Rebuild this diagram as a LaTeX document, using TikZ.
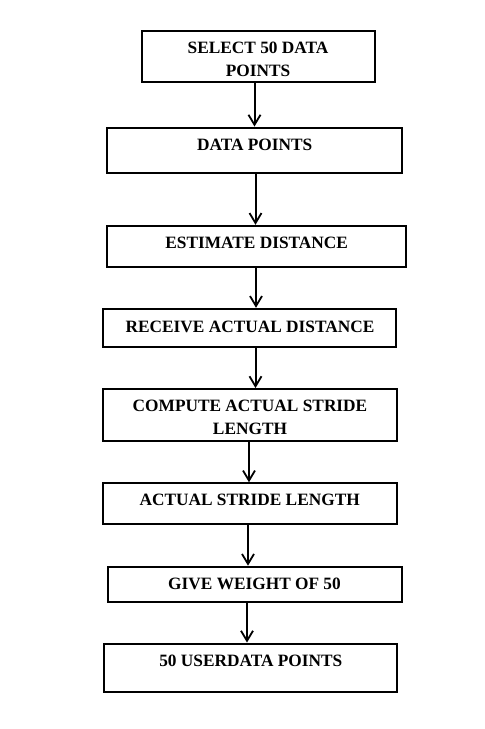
\documentclass[tikz,border=0pt]{standalone}
\usepackage{fontspec}
\setmainfont{Liberation Serif}
\usetikzlibrary{arrows.meta}
\begin{document}
\begin{tikzpicture}[x=1pt,y=-1pt,
  box/.style={draw,rectangle,line width=2pt,inner sep=0pt},
  txt/.style={inner sep=0pt,align=center,font=\fontsize{17.3}{23}\selectfont\bfseries},
  arr/.style={line width=2pt,-{Straight Barb[length=10pt,width=12pt,line width=1.8pt]}}]
\useasboundingbox[fill=white] (0,0) rectangle (485,729);
\node[box,minimum width=233pt,minimum height=51pt] (b1) at (258.3,56.3) {};
\node[box,minimum width=295pt,minimum height=45pt] (b2) at (254.8,150) {};
\node[box,minimum width=299pt,minimum height=41pt] (b3) at (256.7,246.3) {};
\node[box,minimum width=293pt,minimum height=38pt] (b4) at (249.7,327.8) {};
\node[box,minimum width=294pt,minimum height=52pt] (b5) at (249.7,415) {};
\node[box,minimum width=294pt,minimum height=41pt] (b6) at (249.7,503.8) {};
\node[box,minimum width=294pt,minimum height=35pt] (b7) at (254.5,584.2) {};
\node[box,minimum width=293pt,minimum height=48pt] (b8) at (250.8,667.5) {};
\node[txt] (t1) at (258,59.2) {SELECT 50 DATA\\POINTS};
\node[txt] (t2) at (254.7,144.5) {DATA POINTS};
\node[txt] (t3) at (256.7,242.7) {ESTIMATE DISTANCE};
\node[txt] (t4) at (250,326.7) {RECEIVE ACTUAL DISTANCE};
\node[txt] (t5) at (250,417.5) {COMPUTE ACTUAL STRIDE\\LENGTH};
\node[txt] (t6) at (249.7,499.7) {ACTUAL STRIDE LENGTH};
\node[txt] (t7) at (254.5,583.5) {GIVE WEIGHT OF 50};
\node[txt] (t8) at (250.8,661) {50 USERDATA POINTS};
\draw[arr] (b1.south -| 254.5,0) -- (b2.north -| 254.5,0);
\draw[arr] (b2.south -| 255.5,0) -- (b3.north -| 255.5,0);
\draw[arr] (b3.south -| 256,0) -- (b4.north -| 256,0);
\draw[arr] (b4.south -| 255.5,0) -- (b5.north -| 255.5,0);
\draw[arr] (b5.south -| 249,0) -- (b6.north -| 249,0);
\draw[arr] (b6.south -| 248,0) -- (b7.north -| 248,0);
\draw[arr] (b7.south -| 247,0) -- (b8.north -| 247,0);
\end{tikzpicture}
\end{document}
